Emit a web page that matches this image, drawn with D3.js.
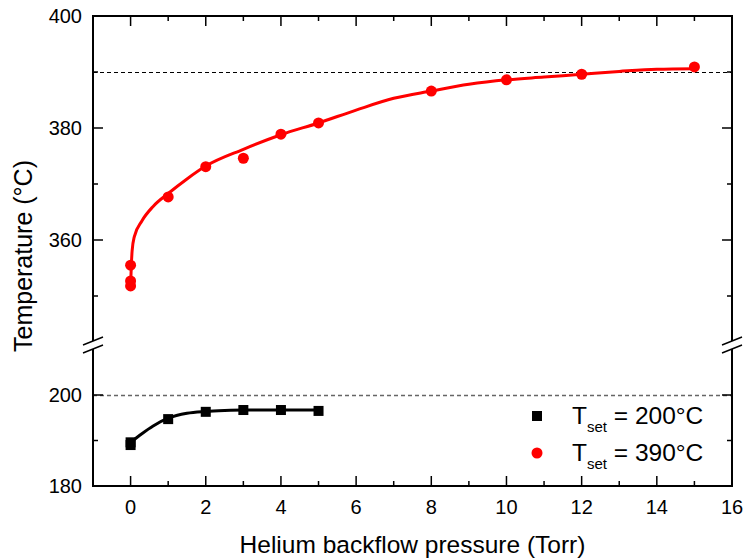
<!DOCTYPE html>
<html>
<head>
<meta charset="utf-8">
<script src="https://cdn.jsdelivr.net/npm/d3@7"></script>
<style>
  html, body { margin: 0; padding: 0; background: #fff; }
  text { font-family: "Liberation Sans", Arial, sans-serif; fill: #000; }
</style>
</head>
<body>
<svg id="chart" width="743" height="559"></svg>
<script>
// ---------- data ----------
const xTicksMajor = [0, 2, 4, 6, 8, 10, 12, 14, 16];
const xTicksMinor = [-1, 1, 3, 5, 7, 9, 11, 13, 15];
const yUpperMajor = [360, 380, 400];
const yUpperMinor = [350, 370, 390];
const yLowerMajor = [180, 200];
const yLowerMinor = [190];

// T_set = 200 °C (squares)
const x200 = [0, 0, 1, 2, 3, 4, 5];
const t200 = [189.6, 189.0, 194.7, 196.3, 196.7, 196.7, 196.5];
// fit curve 200 °C
const fit200x = [0, 0.3, 0.6, 1, 1.5, 2, 2.5, 3, 4, 5];
const fit200y = [189.6, 191.5, 193.2, 194.9, 196.0, 196.4, 196.6, 196.7, 196.7, 196.7];

// T_set = 390 °C (circles)
const x390 = [0, 0, 0, 1, 2, 3, 4, 5, 8, 10, 12, 15];
const t390 = [355.5, 352.7, 351.8, 367.7, 373.1, 374.6, 378.9, 380.9, 386.6, 388.6, 389.6, 390.9];
// fit curve 390 °C
const fit390x = [0, 0.02, 0.04, 0.1, 0.3, 0.6, 1, 1.5, 2, 3, 4, 5, 6, 7, 8, 9, 10, 11, 12, 13, 14, 15];
const fit390y = [351.8, 355.5, 358.0, 360.6, 363.4, 366.0, 368.3, 370.9, 373.2, 376.2, 378.8, 380.9, 383.2, 385.3, 386.6, 387.8, 388.6, 389.1, 389.6, 390.1, 390.5, 390.6];

const setpoints = { upper: 390, lower: 200 };
const legendLabels = [" = 200°C", " = 390°C"];

// ---------- layout ----------
const L = 93, R = 732, T = 16, B = 486;
const svg = d3.select("#chart");

const x = d3.scaleLinear().domain([-1, 16]).range([L, R]);
const yU = d3.scaleLinear().domain([342, 400]).range([340.8, T]);
const yL = d3.scaleLinear().domain([180, 210]).range([B, 349.5]);

// dashed set-point lines
const yDashU = Math.round(yU(setpoints.upper)) + 0.5;
const yDashL = Math.round(yL(setpoints.lower)) + 0.5;
svg.append("line")
  .attr("x1", L).attr("x2", R).attr("y1", yDashU).attr("y2", yDashU)
  .attr("stroke", "#000").attr("stroke-width", 1).attr("stroke-dasharray", "4,3");
svg.append("line")
  .attr("x1", L).attr("x2", R).attr("y1", yDashL).attr("y2", yDashL)
  .attr("stroke", "#666").attr("stroke-width", 1.3).attr("stroke-dasharray", "4,3");

// frame
const frame = svg.append("g").attr("stroke", "#000").attr("stroke-width", 2).attr("fill", "none");
const gapTop = 341, gapBot = 349;
frame.append("line").attr("x1", L - 1).attr("x2", R + 1).attr("y1", T).attr("y2", T);
frame.append("line").attr("x1", L - 1).attr("x2", R + 1).attr("y1", B).attr("y2", B);
[L, R].forEach(xx => {
  frame.append("line").attr("x1", xx).attr("x2", xx).attr("y1", T).attr("y2", gapTop);
  frame.append("line").attr("x1", xx).attr("x2", xx).attr("y1", gapBot).attr("y2", B);
  // break marks
  frame.append("line").attr("x1", xx - 10).attr("x2", xx + 10).attr("y1", 345).attr("y2", 337).attr("stroke-width", 1.5);
  frame.append("line").attr("x1", xx - 10).attr("x2", xx + 10).attr("y1", 353).attr("y2", 345).attr("stroke-width", 1.5);
});

// ticks
const tk = svg.append("g").attr("stroke", "#000").attr("stroke-width", 1.5);
function xTick(v, len) {
  tk.append("line").attr("x1", x(v)).attr("x2", x(v)).attr("y1", B).attr("y2", B - len);
  tk.append("line").attr("x1", x(v)).attr("x2", x(v)).attr("y1", T).attr("y2", T + len);
}
xTicksMajor.forEach(v => xTick(v, 10));
xTicksMinor.forEach(v => xTick(v, 5));
function yTick(yy, len) {
  tk.append("line").attr("x1", L).attr("x2", L + len).attr("y1", yy).attr("y2", yy);
  tk.append("line").attr("x1", R).attr("x2", R - len).attr("y1", yy).attr("y2", yy);
}
yUpperMajor.forEach(v => yTick(yU(v), 10));
yUpperMinor.forEach(v => yTick(yU(v), 5));
yLowerMajor.forEach(v => yTick(yL(v), 10));
yLowerMinor.forEach(v => yTick(yL(v), 5));

// tick labels
const lab = svg.append("g").attr("font-size", 20);
xTicksMajor.forEach(v => {
  lab.append("text").attr("x", x(v)).attr("y", 514).attr("text-anchor", "middle").text(v);
});
yUpperMajor.forEach(v => {
  lab.append("text").attr("x", 82).attr("y", yU(v) + 7).attr("text-anchor", "end").text(v);
});
yLowerMajor.forEach(v => {
  lab.append("text").attr("x", 82).attr("y", yL(v) + 7).attr("text-anchor", "end").text(v);
});

// axis titles
svg.append("text").attr("x", (L + R) / 2).attr("y", 553).attr("text-anchor", "middle")
  .attr("font-size", 24.5).text("Helium backflow pressure (Torr)");
svg.append("text").attr("transform", `translate(32,${(T + B) / 2 + 5}) rotate(-90)`)
  .attr("text-anchor", "middle").attr("font-size", 25).text("Temperature (°C)");

// fit lines
const line = (ys) => d3.line().x(d => x(d[0])).y(d => ys(d[1])).curve(d3.curveMonotoneX);
svg.append("path").datum(fit200x.map((v, i) => [v, fit200y[i]]))
  .attr("d", line(yL)).attr("fill", "none").attr("stroke", "#000").attr("stroke-width", 3);
svg.append("path").datum(fit390x.map((v, i) => [v, fit390y[i]]))
  .attr("d", line(yU)).attr("fill", "none").attr("stroke", "#ff0000").attr("stroke-width", 3);

// points
const sq = 10;
svg.append("g").selectAll("rect").data(x200.map((v, i) => [v, t200[i]])).join("rect")
  .attr("x", d => x(d[0]) - sq / 2).attr("y", d => yL(d[1]) - sq / 2)
  .attr("width", sq).attr("height", sq).attr("fill", "#000");
svg.append("g").selectAll("circle").data(x390.map((v, i) => [v, t390[i]])).join("circle")
  .attr("cx", d => x(d[0])).attr("cy", d => yU(d[1])).attr("r", 5.5).attr("fill", "#ff0000");

// legend
const lg = svg.append("g");
lg.append("rect").attr("x", 537 - sq / 2).attr("y", 416 - sq / 2).attr("width", sq).attr("height", sq).attr("fill", "#000");
lg.append("circle").attr("cx", 537).attr("cy", 453).attr("r", 5.5).attr("fill", "#ff0000");
[[424, legendLabels[0]], [461, legendLabels[1]]].forEach(([yy, t]) => {
  const tx = lg.append("text").attr("x", 572).attr("y", yy).attr("font-size", 24.5);
  tx.append("tspan").text("T");
  tx.append("tspan").attr("font-size", 15).attr("dy", 8).text("set");
  tx.append("tspan").attr("dy", -8).text(t);
});
</script>
</body>
</html>
